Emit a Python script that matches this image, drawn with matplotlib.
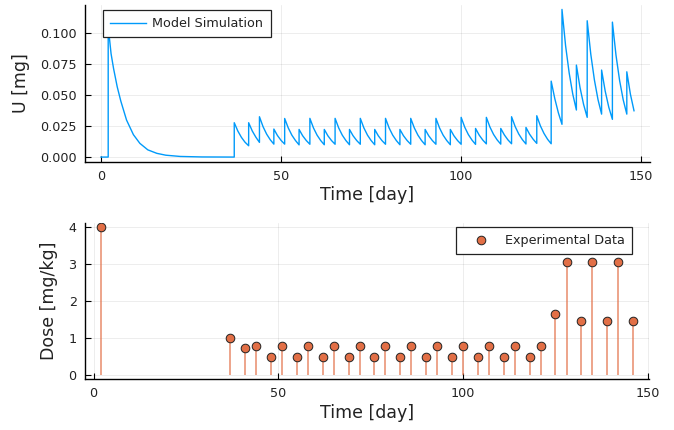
import matplotlib
matplotlib.use('Agg')
import matplotlib.pyplot as plt
import numpy as np

plt.rcParams['font.family'] = ['DejaVu Sans']

# ---------------- data ----------------
dose_days = [2, 37, 41, 44, 48, 51, 55, 58, 62, 65, 69, 72, 76, 79, 83, 86, 90,
             93, 97, 100, 104, 107, 111, 114, 118, 121, 125, 128, 132, 135, 139,
             142, 146]
dose_values = [4.0, 1.0, 0.72,
               0.78, 0.48, 0.78, 0.48, 0.78, 0.48, 0.78, 0.48, 0.78, 0.48,
               0.78, 0.48, 0.78, 0.48, 0.78, 0.48, 0.78, 0.48, 0.78, 0.48,
               0.78, 0.48, 0.78,
               1.65, 3.06, 1.45, 3.06, 1.45, 3.06, 1.45]

# model simulation: initial part (read point by point)
sim_early_t = [0, 2, 2, 2.8, 3.5, 4.5, 5.5, 7.1, 9.0, 10.8, 13.0, 15.5, 18.0,
               22.0, 28.0, 37.0]
sim_early_u = [0, 0, 0.105, 0.083, 0.071, 0.0565, 0.045, 0.0297, 0.018, 0.011,
               0.0058, 0.003, 0.0015, 0.0005, 0.0001, 0.0]

# model simulation after each later dose: start day and daily values
sim_seg_start = dose_days[1:]
sim_seg_u = [
    [0.0276, 0.0209, 0.0158, 0.0119, 0.0091],      # 37
    [0.0276, 0.0210, 0.0160, 0.0118],              # 41
    [0.0324, 0.0244, 0.0184, 0.0139, 0.0104],      # 44
    [0.0225, 0.0173, 0.0134, 0.0104],              # 48
    [0.0310, 0.0234, 0.0176, 0.0133, 0.0098],      # 51
    [0.0222, 0.0171, 0.0133, 0.0103],              # 55
    [0.0311, 0.0234, 0.0176, 0.0133, 0.0099],      # 58
    [0.0222, 0.0171, 0.0133, 0.0103],              # 62
    [0.0311, 0.0234, 0.0176, 0.0133, 0.0099],      # 65
    [0.0222, 0.0171, 0.0133, 0.0103],              # 69
    [0.0311, 0.0234, 0.0176, 0.0133, 0.0099],      # 72
    [0.0222, 0.0171, 0.0133, 0.0103],              # 76
    [0.0311, 0.0234, 0.0176, 0.0133, 0.0099],      # 79
    [0.0222, 0.0171, 0.0133, 0.0103],              # 83
    [0.0311, 0.0234, 0.0176, 0.0133, 0.0099],      # 86
    [0.0222, 0.0171, 0.0133, 0.0103],              # 90
    [0.0311, 0.0234, 0.0176, 0.0133, 0.0099],      # 93
    [0.0222, 0.0171, 0.0133, 0.0103],              # 97
    [0.0319, 0.0240, 0.0181, 0.0137, 0.0102],      # 100
    [0.0230, 0.0177, 0.0137, 0.0106],              # 104
    [0.0319, 0.0241, 0.0182, 0.0138, 0.0104],      # 107
    [0.0230, 0.0178, 0.0138, 0.0107],              # 111
    [0.0324, 0.0245, 0.0185, 0.0140, 0.0105],      # 114
    [0.0238, 0.0184, 0.0143, 0.0110],              # 118
    [0.0332, 0.0251, 0.0190, 0.0143, 0.0107],      # 121
    [0.0610, 0.0470, 0.0355, 0.0263],              # 125
    [0.1186, 0.0895, 0.0675, 0.0505, 0.0378],      # 128
    [0.0739, 0.0560, 0.0423, 0.0319],              # 132
    [0.1095, 0.0826, 0.0620, 0.0462, 0.0345],      # 135
    [0.0699, 0.0530, 0.0400, 0.0303],              # 139
    [0.1084, 0.0818, 0.0615, 0.0460, 0.0345],      # 142
    [0.0685, 0.0505, 0.0372],                      # 146
]

top_yticks = [0.0, 0.025, 0.05, 0.075, 0.1]
top_yticklabels = ['0.000', '0.025', '0.050', '0.075', '0.100']
bot_yticks = [0, 1, 2, 3, 4]
xticks = [0, 50, 100, 150]

# assemble simulation series
sim_t = list(sim_early_t)
sim_u = list(sim_early_u)
for start, vals in zip(sim_seg_start, sim_seg_u):
    sim_t += [start + i for i in range(len(vals))]
    sim_u += vals

blue = '#009AFA'
orange = '#E26F46'

fig = plt.figure(figsize=(6.74, 4.30), dpi=100)
ax1 = fig.add_axes([85/674, 1 - 161.5/430, 565/674, 156.5/430])
ax2 = fig.add_axes([85/674, 1 - 379/430, 564/674, 156/430])

ax1.plot(sim_t, sim_u, color=blue, lw=1.0, label='Model Simulation')

ax2.vlines(dose_days, 0, dose_values, color=orange, lw=1.1, alpha=0.8)
ax2.plot(dose_days, dose_values, 'o', ms=6.2, mfc=orange, mec='#222222',
         mew=0.7, ls='none', label='Experimental Data', zorder=3)


def style(ax):
    for s in ['top', 'right']:
        ax.spines[s].set_visible(False)
    for s in ['left', 'bottom']:
        ax.spines[s].set_color('#000000')
        ax.spines[s].set_linewidth(1.0)
    ax.tick_params(direction='in', length=4, width=0.8, color='#000000',
                   labelsize=9.2, labelcolor='#222222', pad=6)
    ax.grid(True, color='#000000', alpha=0.1, lw=0.5)
    ax.set_axisbelow(True)


style(ax1)
style(ax2)

t_min, t_max = min(sim_t), max(sim_t)
pad = 0.03 * (t_max - t_min)
ax1.set_xlim(t_min - pad, t_max + pad)
u_max = max(sim_u)
ax1.set_ylim(-0.03 * u_max, u_max * 1.03)
ax1.set_xticks(xticks)
ax1.set_yticks(top_yticks)
ax1.set_yticklabels(top_yticklabels)

d_min, d_max = min(dose_days), max(dose_days)
pad2 = 0.03 * (d_max - d_min)
ax2.set_xlim(d_min - pad2, d_max + pad2)
ax2.set_ylim(-0.12, 4.12)
ax2.set_xticks(xticks)
ax2.set_yticks(bot_yticks)

lab_fs = 12.5
ax1.set_xlabel('Time [day]', fontsize=lab_fs, color='#222222')
ax1.set_ylabel('U [mg]', fontsize=lab_fs, color='#222222')
ax2.set_xlabel('Time [day]', fontsize=lab_fs, color='#222222')
ax2.set_ylabel('Dose [mg/kg]', fontsize=lab_fs, color='#222222')
ax1.xaxis.set_label_coords(0.5, -0.215)
ax2.xaxis.set_label_coords(0.5, -0.218)
ax1.yaxis.set_label_coords(-0.113, 0.5)
ax2.yaxis.set_label_coords(-0.064, 0.5)
for ax in (ax1, ax2):
    ax.xaxis.label.set_va('center')
    ax.yaxis.label.set_va('center')

leg_kw = dict(fontsize=9.2, handlelength=2.8, handletextpad=0.5, borderpad=0.55,
              fancybox=False, framealpha=1.0, edgecolor='#222222',
              borderaxespad=0.0)
l1 = ax1.legend(loc='upper left', bbox_to_anchor=((103.3 - 85) / 565, (161.5 - 10) / 156.5),
                **leg_kw)
l2 = ax2.legend(loc='upper right', bbox_to_anchor=((632.3 - 85) / 564, (379 - 227.3) / 156),
                **leg_kw)
for l in (l1, l2):
    l.get_frame().set_linewidth(0.9)
    for t in l.get_texts():
        t.set_color('#222222')

fig.savefig('out.png', dpi=100)
